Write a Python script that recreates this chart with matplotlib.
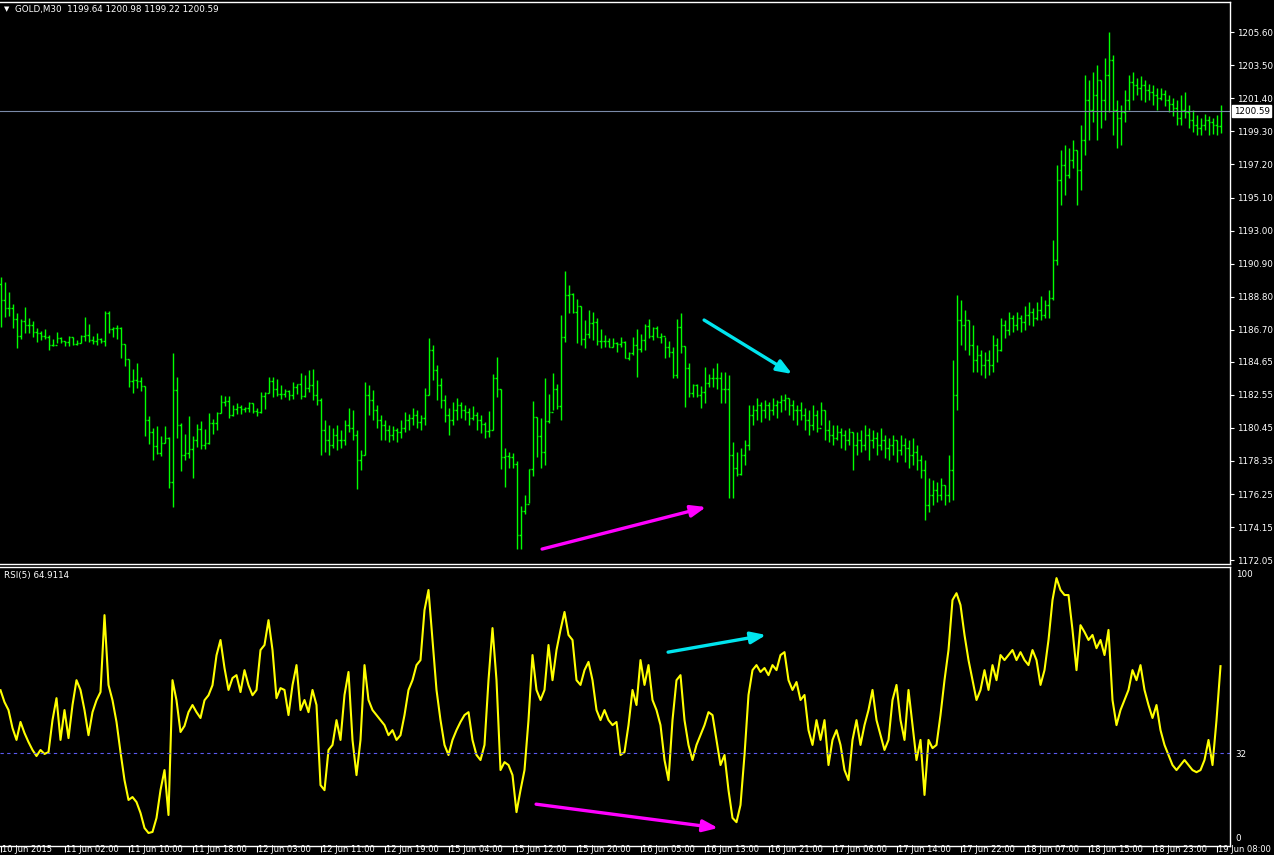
import matplotlib
matplotlib.use("Agg")
import matplotlib.pyplot as plt
import matplotlib.transforms as mtransforms
import numpy as np

# GOLD M30 bars (index 0 = first bar on the left)
bar_high = [
    1190.02, 1189.73, 1189.09, 1188.33, 1187.76, 1187.35, 1188.14, 1187.44,
    1187.25, 1186.80, 1186.63, 1186.74, 1186.34, 1186.10, 1186.55, 1186.25,
    1186.00, 1186.29, 1186.23, 1186.04, 1186.36, 1187.50, 1187.06, 1186.31,
    1186.48, 1186.15, 1187.88, 1187.88, 1186.89, 1186.99, 1186.84, 1185.79,
    1184.83, 1184.20, 1184.58, 1183.69, 1183.12, 1181.21, 1180.45, 1180.57,
    1179.94, 1180.57, 1179.89, 1185.21, 1183.69, 1180.74, 1180.08, 1181.23,
    1179.94, 1180.70, 1180.89, 1180.40, 1181.38, 1181.02, 1181.46, 1182.54,
    1182.46, 1182.48, 1181.89, 1182.03, 1181.91, 1181.80, 1182.10, 1182.05,
    1181.72, 1182.73, 1182.71, 1183.71, 1183.71, 1183.56, 1183.18, 1182.90,
    1182.86, 1183.37, 1183.24, 1183.92,
    # 76
    1183.81, 1184.13, 1184.19, 1183.49, 1182.35, 1180.95, 1180.64, 1180.45,
    1180.64, 1180.32, 1180.95, 1181.72, 1181.59, 1180.32, 1179.05, 1183.37,
    1183.18, 1182.86, 1181.91, 1181.27, 1180.95, 1180.64, 1180.57, 1180.45,
    1180.95, 1181.46, 1181.34, 1181.72, 1181.59, 1181.27, 1182.99, 1186.17,
    1185.72, 1184.45, 1183.62, 1182.54, 1181.72, 1182.10, 1182.35, 1182.10,
    1181.91, 1181.72, 1181.84, 1181.46,
    # 120
    1181.27, 1180.85, 1181.55, 1183.88, 1184.94, 1182.90, 1179.17, 1178.92,
    1178.83, 1178.35, 1175.49, 1176.18, 1177.82, 1182.16, 1181.12, 1181.10,
    1183.62, 1182.61, 1183.92, 1183.24, 1187.63, 1190.42, 1189.53, 1189.00,
    1188.64, 1188.20, 1187.31, 1187.95, 1187.84, 1187.42, 1186.74, 1186.36,
    1186.14, 1186.14, 1185.93, 1186.21, 1186.00, 1185.30, 1186.21, 1186.72,
    1186.42, 1187.06, 1187.35, 1186.89, 1186.93, 1186.46, 1186.21, 1186.00,
    1185.61, 1187.37, 1187.78, 1185.66, 1184.56, 1183.22, 1183.22, 1183.11,
    1184.30, 1183.88, 1184.24, 1184.56, 1184.03, 1184.03, 1183.81, 1179.58,
    1178.94,
    # 185
    1179.17, 1179.68, 1181.91, 1181.91, 1182.35, 1182.10, 1182.22, 1182.10,
    1182.35, 1182.22, 1182.54, 1182.61, 1182.35, 1182.22, 1181.91, 1182.10,
    1181.72, 1181.59, 1181.91, 1181.59, 1182.10, 1181.59, 1180.95, 1180.64,
    1180.64, 1180.45, 1180.32, 1180.45, 1180.19, 1180.19, 1180.32, 1180.64,
    1180.45, 1180.32, 1180.19, 1180.45, 1180.00, 1179.81, 1180.00, 1179.68,
    1180.00, 1179.81, 1179.68, 1179.81, 1179.37, 1178.73, 1178.41, 1177.27,
    1177.14, 1177.01, 1177.27, 1176.85, 1178.73, 1184.77, 1188.90, 1188.58,
    1187.95, 1187.31, 1186.99, 1185.72, 1185.40, 1185.28, 1185.40, 1186.36,
    1186.17, 1187.44, 1187.31, 1187.82, 1187.63, 1187.82, 1187.63, 1188.20,
    1188.45, 1188.07, 1188.45, 1188.84, 1188.58, 1189.22, 1192.40, 1197.16,
    1198.12, 1198.44, 1198.24, 1198.75, 1198.12, 1199.71, 1202.89, 1202.57,
    1203.08, 1203.52, 1202.60, 1203.97, 1205.62, 1204.16, 1201.30, 1200.98,
    1201.93, 1202.89, 1203.08, 1202.69, 1202.82, 1202.57, 1202.31, 1202.25,
    1202.06, 1202.06, 1201.93, 1201.61, 1201.42, 1201.30, 1201.61, 1201.80,
    1200.98, 1200.66, 1200.34, 1200.15, 1200.40, 1200.28, 1200.15, 1200.34,
    1200.98,
]
bar_low = [
    1186.89, 1187.52, 1187.59, 1186.82, 1185.55, 1186.12, 1186.50, 1186.46,
    1186.25, 1185.93, 1186.04, 1186.10, 1185.42, 1185.64, 1185.83, 1185.83,
    1185.66, 1185.66, 1185.74, 1185.72, 1185.83, 1186.00, 1185.89, 1185.79,
    1185.72, 1185.83, 1185.66, 1186.46, 1186.25, 1186.10, 1184.92, 1184.41,
    1183.07, 1182.69, 1182.97, 1182.80, 1179.96, 1179.41, 1178.43, 1178.77,
    1178.69, 1179.47, 1176.65, 1175.44, 1179.83, 1177.73, 1178.41, 1178.56,
    1177.29, 1179.26, 1179.11, 1179.13, 1179.41, 1180.06, 1180.32, 1181.42,
    1181.84, 1181.10, 1181.23, 1181.33, 1181.33, 1181.44, 1181.44, 1181.42,
    1181.21, 1181.38, 1181.65, 1182.65, 1182.39, 1182.50, 1182.29, 1182.39,
    1182.22, 1182.27, 1182.58, 1182.29,
    # 76
    1182.40, 1182.73, 1182.22, 1181.91, 1178.73, 1178.92, 1178.73, 1179.17,
    1179.05, 1179.17, 1179.37, 1180.19, 1179.68, 1176.57, 1177.77, 1178.73,
    1181.27, 1180.95, 1180.45, 1179.68, 1179.68, 1179.56, 1179.68, 1179.56,
    1179.81, 1180.19, 1180.32, 1180.64, 1180.45, 1180.32, 1180.64, 1182.54,
    1183.49, 1182.22, 1181.72, 1180.83, 1180.00, 1180.64, 1180.95, 1181.08,
    1180.95, 1180.64, 1180.95, 1180.32,
    # 120
    1180.15, 1179.79, 1179.85, 1180.32, 1182.44, 1177.82, 1176.71, 1177.88,
    1177.88, 1172.75, 1172.75, 1174.96, 1175.65, 1177.41, 1178.62, 1177.92,
    1178.09, 1180.74, 1181.59, 1181.63, 1180.95, 1185.93, 1187.73, 1187.73,
    1185.83, 1185.72, 1185.55, 1186.14, 1186.04, 1185.72, 1185.51, 1185.61,
    1185.57, 1185.61, 1185.30, 1185.61, 1184.87, 1184.77, 1185.08, 1183.67,
    1185.30, 1185.40, 1186.14, 1186.04, 1186.21, 1185.83, 1184.87, 1184.94,
    1183.60, 1183.60, 1185.19, 1181.76, 1182.44, 1182.44, 1182.44, 1181.69,
    1182.01, 1183.03, 1183.03, 1182.90, 1182.05, 1182.01, 1175.97, 1175.97,
    1177.41,
    # 185
    1177.45, 1178.09, 1179.05, 1180.64, 1180.95, 1180.83, 1181.08, 1180.95,
    1181.27, 1181.08, 1181.46, 1181.59, 1181.27, 1180.95, 1180.64, 1180.95,
    1180.32, 1180.00, 1180.32, 1180.19, 1180.64, 1179.68, 1179.56, 1179.37,
    1179.68, 1179.17, 1179.05, 1179.37, 1177.77, 1178.73, 1178.92, 1179.05,
    1178.41, 1179.17, 1178.73, 1179.05, 1178.54, 1178.41, 1178.73, 1178.28,
    1178.73, 1178.28, 1177.90, 1178.09, 1177.77, 1177.27, 1174.60, 1175.10,
    1175.55, 1175.74, 1175.87, 1175.55, 1175.74, 1175.87, 1181.59, 1185.72,
    1185.40, 1185.09, 1184.00, 1184.00, 1183.81, 1183.62, 1183.81, 1184.00,
    1184.64, 1185.35, 1186.17, 1186.36, 1186.55, 1186.67, 1186.55, 1186.67,
    1186.99, 1186.93, 1187.31, 1187.31, 1187.44, 1187.44, 1188.58, 1190.80,
    1194.62, 1195.26, 1196.34, 1196.97, 1194.62, 1195.57, 1197.80, 1198.75,
    1199.90, 1198.75, 1199.52, 1200.02, 1200.53, 1199.07, 1198.24, 1198.44,
    1199.90, 1200.66, 1201.30, 1201.61, 1201.30, 1201.17, 1201.30, 1200.98,
    1200.66, 1201.30, 1200.91, 1200.53, 1200.28, 1199.71, 1199.71, 1200.15,
    1199.52, 1199.26, 1199.07, 1199.07, 1199.39, 1199.07, 1199.13, 1199.07,
    1199.22,
]
bar_close = [
    1188.58, 1188.05, 1188.05, 1187.35, 1186.29, 1187.25, 1186.99, 1186.99,
    1186.53, 1186.46, 1186.31, 1186.25, 1185.70, 1185.70, 1186.19, 1185.98,
    1185.93, 1186.25, 1185.79, 1185.83, 1186.31, 1186.34, 1186.04, 1185.98,
    1186.08, 1186.00, 1187.78, 1186.72, 1186.78, 1186.78, 1185.79, 1184.81,
    1183.45, 1183.50, 1183.45, 1183.12, 1180.95, 1180.21, 1179.32, 1178.83,
    1179.47, 1179.79, 1176.99, 1182.86, 1180.64, 1178.73, 1178.83, 1179.09,
    1179.66, 1180.36, 1179.36, 1179.47, 1180.74, 1180.74, 1181.42, 1182.12,
    1182.18, 1181.27, 1181.65, 1181.80, 1181.63, 1181.70, 1182.01, 1181.53,
    1181.44, 1182.48, 1182.65, 1183.45, 1182.90, 1182.61, 1182.58, 1182.82,
    1182.54, 1183.03, 1183.22, 1182.48,
    # 76
    1182.99, 1183.18, 1182.54, 1182.22, 1180.32, 1179.68, 1179.37, 1180.00,
    1179.68, 1179.68, 1180.64, 1180.45, 1180.00, 1178.41, 1178.73, 1182.54,
    1182.22, 1181.59, 1180.95, 1180.64, 1180.32, 1180.00, 1180.32, 1180.19,
    1180.45, 1180.95, 1181.08, 1181.27, 1180.83, 1181.08, 1182.54, 1185.40,
    1184.13, 1183.18, 1182.22, 1181.27, 1180.95, 1181.59, 1181.91, 1181.59,
    1181.46, 1181.08, 1181.27, 1180.95,
    # 120
    1180.70, 1180.25, 1180.32, 1183.60, 1182.90, 1178.62, 1178.66, 1178.62,
    1178.13, 1173.64, 1175.15, 1175.61, 1177.82, 1181.16, 1179.94, 1178.92,
    1180.91, 1181.44, 1182.90, 1181.84, 1186.21, 1188.90, 1188.94, 1187.84,
    1188.20, 1186.08, 1186.42, 1187.14, 1187.20, 1185.97, 1185.97, 1185.97,
    1185.61, 1185.83, 1185.76, 1185.93, 1184.92, 1185.19, 1185.72, 1185.45,
    1186.04, 1186.93, 1186.29, 1186.78, 1186.25, 1186.29, 1185.61, 1185.30,
    1183.81, 1186.84, 1185.66, 1184.24, 1182.65, 1183.18, 1182.54, 1182.75,
    1183.28, 1183.64, 1183.64, 1183.64, 1182.90, 1182.90, 1178.73, 1177.88,
    1177.50,
    # 185
    1178.73, 1179.37, 1181.27, 1181.59, 1181.91, 1181.59, 1181.91, 1181.59,
    1181.91, 1182.10, 1182.22, 1182.35, 1181.91, 1181.59, 1181.59, 1181.27,
    1180.95, 1180.64, 1181.27, 1180.45, 1181.59, 1180.32, 1180.00, 1179.81,
    1180.19, 1180.00, 1179.68, 1180.19, 1179.37, 1179.68, 1179.37, 1180.00,
    1179.68, 1179.81, 1179.37, 1179.68, 1179.17, 1179.37, 1179.68, 1179.05,
    1179.37, 1179.17, 1178.73, 1178.92, 1178.41, 1177.77, 1175.55, 1176.19,
    1176.50, 1176.19, 1176.82, 1176.19, 1177.77, 1182.54, 1187.31, 1186.99,
    1187.31, 1185.72, 1184.77, 1185.09, 1184.45, 1184.77, 1184.45, 1185.72,
    1185.40, 1186.99, 1186.67, 1187.44, 1186.99, 1187.44, 1187.18, 1187.63,
    1187.82, 1187.44, 1187.95, 1187.63, 1188.26, 1188.71, 1191.12, 1196.21,
    1197.16, 1196.53, 1197.48, 1198.12, 1196.85, 1198.75, 1201.30, 1200.66,
    1201.61, 1202.57, 1201.30, 1202.89, 1203.84, 1200.66, 1200.15, 1200.53,
    1201.30, 1202.44, 1202.25, 1202.06, 1202.25, 1201.93, 1201.80, 1201.61,
    1201.42, 1201.68, 1201.30, 1201.04, 1200.79, 1200.15, 1200.66, 1200.53,
    1200.02, 1199.71, 1199.52, 1199.71, 1200.02, 1199.90, 1199.71, 1199.64,
    1200.59,
]
# open ticks (left side of each bar), they sit at the previous close
bar_open = [
    1189.60, 1188.58, 1188.05, 1188.05, 1187.35, 1186.29, 1187.25, 1186.99,
    1186.99, 1186.53, 1186.46, 1186.31, 1186.25, 1185.70, 1185.70, 1186.19,
    1185.98, 1185.93, 1186.25, 1185.79, 1185.83, 1186.31, 1186.34, 1186.04,
    1185.98, 1186.08, 1186.00, 1187.78, 1186.72, 1186.78, 1186.78, 1185.79,
    1184.81, 1183.45, 1183.50, 1183.45, 1183.12, 1180.95, 1180.21, 1179.32,
    1178.83, 1179.47, 1179.79, 1176.99, 1182.86, 1180.64, 1178.73, 1178.83,
    1179.09, 1179.66, 1180.36, 1179.36, 1179.47, 1180.74, 1180.74, 1181.42,
    1182.12, 1182.18, 1181.27, 1181.65, 1181.80, 1181.63, 1181.70, 1182.01,
    1181.53, 1181.44, 1182.48, 1182.65, 1183.45, 1182.90, 1182.61, 1182.58,
    1182.82, 1182.54, 1183.03, 1183.22,
    # 76
    1182.48, 1182.99, 1183.18, 1182.54, 1182.22, 1180.32, 1179.68, 1179.37,
    1180.00, 1179.68, 1179.68, 1180.64, 1180.45, 1180.00, 1178.41, 1178.73,
    1182.54, 1182.22, 1181.59, 1180.95, 1180.64, 1180.32, 1180.00, 1180.32,
    1180.19, 1180.45, 1180.95, 1181.08, 1181.27, 1180.83, 1181.08, 1182.54,
    1185.40, 1184.13, 1183.18, 1182.22, 1181.27, 1180.95, 1181.59, 1181.91,
    1181.59, 1181.46, 1181.08, 1181.27,
    # 120
    1180.95, 1180.70, 1180.25, 1180.32, 1183.60, 1182.90, 1178.62, 1178.66,
    1178.62, 1178.13, 1173.64, 1175.15, 1175.61, 1177.82, 1181.16, 1179.94,
    1178.92, 1180.91, 1181.44, 1182.90, 1181.84, 1186.21, 1188.90, 1188.94,
    1187.84, 1188.20, 1186.08, 1186.42, 1187.14, 1187.20, 1185.97, 1185.97,
    1185.97, 1185.61, 1185.83, 1185.76, 1185.93, 1184.92, 1185.19, 1185.72,
    1185.45, 1186.04, 1186.93, 1186.29, 1186.78, 1186.25, 1186.29, 1185.61,
    1185.30, 1183.81, 1186.84, 1185.66, 1184.24, 1182.65, 1183.18, 1182.54,
    1182.75, 1183.28, 1183.64, 1183.64, 1183.64, 1182.90, 1182.90, 1178.73,
    1177.88,
    # 185
    1177.50, 1178.73, 1179.37, 1181.27, 1181.59, 1181.91, 1181.59, 1181.91,
    1181.59, 1181.91, 1182.10, 1182.22, 1182.35, 1181.91, 1181.59, 1181.59,
    1181.27, 1180.95, 1180.64, 1181.27, 1180.45, 1181.59, 1180.32, 1180.00,
    1179.81, 1180.19, 1180.00, 1179.68, 1180.19, 1179.37, 1179.68, 1179.37,
    1180.00, 1179.68, 1179.81, 1179.37, 1179.68, 1179.17, 1179.37, 1179.68,
    1179.05, 1179.37, 1179.17, 1178.73, 1178.92, 1178.41, 1177.77, 1175.55,
    1176.19, 1176.50, 1176.19, 1176.82, 1176.19, 1177.77, 1182.54, 1187.31,
    1186.99, 1187.31, 1185.72, 1184.77, 1185.09, 1184.45, 1184.77, 1184.45,
    1185.72, 1185.40, 1186.99, 1186.67, 1187.44, 1186.99, 1187.44, 1187.18,
    1187.63, 1187.82, 1187.44, 1187.95, 1187.63, 1188.26, 1188.71, 1191.12,
    1196.21, 1197.16, 1196.53, 1197.48, 1198.12, 1196.85, 1198.75, 1201.30,
    1200.66, 1201.61, 1202.57, 1201.30, 1202.89, 1203.84, 1200.66, 1200.15,
    1200.53, 1201.30, 1202.44, 1202.25, 1202.06, 1202.25, 1201.93, 1201.80,
    1201.61, 1201.42, 1201.68, 1201.30, 1201.04, 1200.79, 1200.15, 1200.66,
    1200.53, 1200.02, 1199.71, 1199.52, 1199.71, 1200.02, 1199.90, 1199.71,
    1199.64,
]

# RSI(5) line
rsi_values = [
    55.8, 51.3, 48.3, 41.5, 37.0, 43.8, 39.6, 36.2, 33.2, 30.9, 33.2, 31.7,
    32.4, 44.5, 52.8, 37.0, 48.3, 37.7, 50.2, 59.6, 55.9, 48.3, 38.8, 47.5,
    52.0, 55.1, 84.2, 57.8, 52.0, 43.8, 32.4, 21.8, 14.3, 15.4, 13.5, 9.4,
    3.7, 1.8, 2.2, 7.5, 18.0, 25.6, 8.6, 59.6, 52.0, 40.0, 42.3, 47.5,
    50.2, 47.5, 45.3, 52.0, 53.9, 57.7, 69.0, 74.8, 64.2, 55.9, 60.4, 61.5,
    55.1, 63.4, 57.7, 53.9, 55.9, 71.0, 72.9, 82.3, 71.0, 52.8, 56.6, 55.9,
    46.4, 57.7, 65.3, 48.3,
    # 76
    52.1, 47.5, 55.9, 50.2, 19.9, 18.0, 33.2, 35.1, 44.5, 37.0, 54.0, 62.7,
    37.0, 23.7, 37.0, 65.3, 52.1, 48.3, 46.4, 44.5, 42.6, 38.8, 40.7, 37.0,
    38.8, 46.4, 55.9, 59.6, 65.3, 67.2, 86.1, 93.7, 74.8, 55.9, 44.5, 35.1,
    31.3, 37.0, 40.7, 43.8, 46.4, 47.5, 37.0, 31.3,
    # 120
    29.4, 35.1, 59.6, 79.3, 59.6, 25.6, 28.6, 27.5, 23.7, 9.7,
    18.0, 25.6, 44.5, 69.1, 55.9, 52.1, 55.9, 72.9, 59.6, 71.0,
    78.6, 85.4, 76.7, 74.8, 59.6, 57.8, 63.4, 66.5, 59.6, 48.3,
    44.5, 48.3, 44.5, 42.6, 43.8, 31.3, 32.4, 42.6, 55.9, 50.2,
    67.2, 57.8, 65.3, 52.1, 48.3, 42.6, 29.4, 21.8, 44.5, 59.6,
    61.5, 44.5, 35.1, 29.4, 35.1, 38.8, 42.6, 47.5, 46.4, 37.0,
    27.5, 31.3, 18.0, 7.5, 5.9,
    # 185
    12.4, 31.3, 54.0, 63.4, 65.3, 62.7, 64.2, 61.5, 65.3, 63.4,
    69.1, 70.2, 59.6, 55.9, 58.9, 52.1, 54.0, 40.7, 35.1, 44.5,
    37.0, 44.5, 27.5, 37.0, 40.7, 35.1, 25.6, 21.8, 37.0, 44.5,
    35.1, 42.6, 48.3, 55.9, 44.5, 38.8, 33.2, 37.0, 52.1, 57.8,
    44.5, 37.0, 55.9, 42.6, 29.4, 37.0, 16.2, 37.0, 33.9, 35.1,
    46.4, 59.6, 71.0, 89.9, 92.5, 88.0, 76.7, 67.2, 59.6, 52.1,
    55.9, 63.4, 55.9, 65.3, 59.6, 69.1, 67.2, 69.1, 71.0, 67.2,
    70.2, 67.2, 65.3, 71.0, 67.2, 57.8, 63.4, 74.8, 89.9, 98.2,
    93.7, 91.8, 91.8, 78.6, 63.4, 80.4, 77.8, 74.8, 76.7, 71.7,
    74.8, 69.1, 78.6, 52.1, 42.6, 48.3, 52.1, 55.9, 63.4, 59.6,
    65.3, 55.9, 50.2, 45.3, 50.2, 40.7, 35.1, 31.3, 27.5, 25.6,
    27.5, 29.4, 27.5, 25.6, 24.8, 25.6, 29.4, 37.0, 27.5, 44.5,
    64.9,
]

price_ticks = [1205.60, 1203.50, 1201.40, 1199.30, 1197.20, 1195.10, 1193.00,
               1190.90, 1188.80, 1186.70, 1184.65, 1182.55, 1180.45, 1178.35,
               1176.25, 1174.15, 1172.05]
rsi_ticks = [100, 32, 0]
rsi_level = 32
bid_price = 1200.59

time_labels = ["10 Jun 2015", "11 Jun 02:00", "11 Jun 10:00", "11 Jun 18:00",
               "12 Jun 03:00", "12 Jun 11:00", "12 Jun 19:00", "15 Jun 04:00",
               "15 Jun 12:00", "15 Jun 20:00", "16 Jun 05:00", "16 Jun 13:00",
               "16 Jun 21:00", "17 Jun 06:00", "17 Jun 14:00", "17 Jun 22:00",
               "18 Jun 07:00", "18 Jun 15:00", "18 Jun 23:00", "19 Jun 08:00"]
bars_per_label = 16

title_text = "GOLD,M30  1199.64 1200.98 1199.22 1200.59"
rsi_text = "RSI(5) 64.9114"

assert len(bar_open) == len(bar_high) == len(bar_low) == len(bar_close)
assert len(rsi_values) == len(bar_close)

BAR_GREEN = "#00ff00"
FG = "white"
FS = 6.3


def style_axis(ax):
    """ black MT4 style window with the scale on the right """
    ax.set_facecolor("black")
    ax.spines["left"].set_visible(False)
    for side in ["top", "bottom", "right"]:
        ax.spines[side].set_color(FG)
        ax.spines[side].set_linewidth(1.0)
    ax.yaxis.tick_right()
    ax.tick_params(axis="y", colors=FG, labelsize=FS, length=3, width=0.8,
                   direction="out", pad=2)
    ax.tick_params(axis="x", bottom=False, labelbottom=False)


def draw_bars(ax):
    """ MT4 bar chart: high-low stick, open tick left, close tick right """
    idx = np.arange(len(bar_close))
    ax.vlines(idx, bar_low, bar_high, color=BAR_GREEN, lw=1.0)
    ax.hlines(bar_open, idx - 0.45, idx, color=BAR_GREEN, lw=1.0)
    ax.hlines(bar_close, idx, idx + 0.45, color=BAR_GREEN, lw=1.0)


def arrow(ax, start, end, color):
    ax.annotate("", xy=end, xytext=start,
                arrowprops=dict(arrowstyle="-|>,head_length=0.9,head_width=0.35",
                                color=color, lw=2.4, shrinkA=0, shrinkB=0))


fig = plt.figure(figsize=(12.74, 8.55), dpi=100, facecolor="black")
ax = fig.add_axes([0.0, 1 - 564 / 855, 1230 / 1274, (564 - 2) / 855])
ax_rsi = fig.add_axes([0.0, 1 - 845.7 / 855, 1230 / 1274, (845.7 - 567) / 855])

x_left = -0.125
x_right = (1230 - 0.5) / 4

# price window
style_axis(ax)
draw_bars(ax)
ax.axhline(bid_price, color="#7a8aa8", lw=0.8)
ax.set_xlim(x_left, x_right)
ax.set_ylim(1171.80, 1207.53)
ax.set_yticks(price_ticks)
ax.set_yticklabels(["%.2f" % p for p in price_ticks])
trans = mtransforms.blended_transform_factory(ax.transAxes, ax.transData)
ax.text(1.003, bid_price, "%.2f" % bid_price, transform=trans, fontsize=FS,
        color="black", va="center", ha="left",
        bbox=dict(boxstyle="square,pad=0.15", fc="white", ec="white"))
ax.text(0.003, 0.987, "\u25bc", transform=ax.transAxes, fontsize=5,
        color=FG, va="center", ha="left")
ax.text(0.012, 0.987, title_text, transform=ax.transAxes, fontsize=FS,
        color=FG, va="center", ha="left")
arrow(ax, (175.9, 1187.31), (197.9, 1183.88), "#00e5ee")
arrow(ax, (135.4, 1172.75), (176.4, 1175.42), "#ff00ff")

# RSI window
style_axis(ax_rsi)
ax_rsi.plot(np.arange(len(rsi_values)), rsi_values, color="#ffff00", lw=1.5)
ax_rsi.axhline(rsi_level, color="#5a5af0", lw=0.8, ls=(0, (3, 3)))
ax_rsi.set_xlim(x_left, x_right)
ax_rsi.set_ylim(-3.0, 102.4)
ax_rsi.set_yticks(rsi_ticks)
ax_rsi.set_yticklabels([str(v) for v in rsi_ticks])
ax_rsi.tick_params(axis="y", length=0, pad=4)
ax_rsi.text(0.003, 0.97, rsi_text, transform=ax_rsi.transAxes, fontsize=FS,
            color=FG, va="center", ha="left")
arrow(ax_rsi, (166.9, 70.2), (191.4, 76.7), "#00e5ee")
arrow(ax_rsi, (133.9, 12.7), (179.4, 3.7), "#ff00ff")

# time scale under the RSI window
tick_pos = [i * bars_per_label for i in range(len(time_labels))]
ax_rsi.set_xticks(tick_pos)
ax_rsi.tick_params(axis="x", bottom=True, labelbottom=False, colors=FG,
                   length=4, width=0.8, direction="out")
label_trans = mtransforms.blended_transform_factory(ax_rsi.transData,
                                                    fig.transFigure)
for pos, lab in zip(tick_pos, time_labels):
    fig.text(pos + 0.4, 0.8 / 855, lab, transform=label_trans,
             fontsize=6.0, color=FG, ha="left", va="bottom")

fig.savefig("out.png", dpi=100, facecolor="black")
